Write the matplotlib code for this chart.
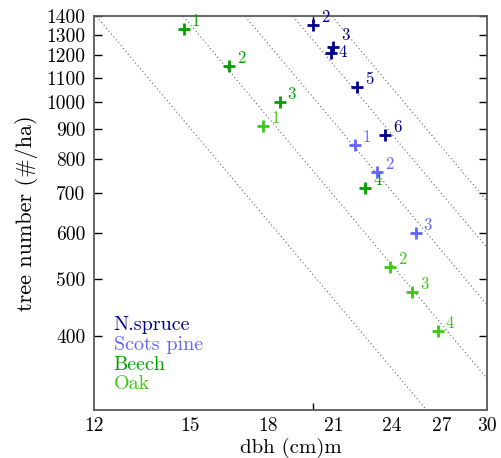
import numpy as np
import matplotlib
matplotlib.use("Agg")
from matplotlib import pyplot as plt
from matplotlib.ticker import FixedLocator, FixedFormatter, NullLocator, NullFormatter

plt.rcParams.update({
    "font.family": ["cmr10", "DejaVu Serif"],
    "font.size": 12,
    "axes.unicode_minus": False,
})

# stand data: plot number, mean dbh (cm), tree number (#/ha)
spruce_id = [2, 3, 4, 5, 6]
spruce_dbh = [20.0, 20.95, 20.85, 22.15, 23.65]
spruce_n = [1350, 1240, 1212, 1060, 880]

pine_id = [1, 2, 3]
pine_dbh = [22.05, 23.2, 25.4]
pine_n = [846, 760, 600]

beech_id = [1, 2, 3, 4]
beech_dbh = [14.8, 16.45, 18.5, 22.6]
beech_n = [1333, 1152, 1000, 714]

oak_id = [1, 2, 3, 4]
oak_dbh = [17.8, 23.95, 25.2, 26.75]
oak_n = [912, 525, 476, 408]

# basal area isolines (m2/ha)
basal_levels = [16, 24, 32, 40, 48]

x_ticks = [12, 15, 18, 21, 24, 27, 30]
y_ticks = [400, 500, 600, 700, 800, 900, 1000, 1100, 1200, 1300, 1400]

species = [
    ("N.spruce", "#00008c", spruce_id, spruce_dbh, spruce_n),
    ("Scots pine", "#6464ff", pine_id, pine_dbh, pine_n),
    ("Beech", "#00a000", beech_id, beech_dbh, beech_n),
    ("Oak", "#3cc814", oak_id, oak_dbh, oak_n),
]

fig = plt.figure(figsize=(5.01, 4.58), dpi=100)
ax = fig.add_axes([0.1876, 0.1048, 0.972 - 0.1876, 0.965 - 0.1048])
ax.set_xscale("log")
ax.set_yscale("log")
ax.set_xlim(12, 30)
ax.set_ylim(300, 1400)

d = np.geomspace(12, 30, 200)
for g in basal_levels:
    n = g / (np.pi / 4 * (d / 100) ** 2)
    ax.plot(d, n, color="0.4", linestyle=(0, (1, 2.4)), linewidth=0.8, zorder=1)

# number offsets for the two close spruce plots
shift = {("N.spruce", 3): 4, ("N.spruce", 4): -7}

for name, col, ids, dbh, num in species:
    ax.plot(dbh, num, linestyle="none", marker="+", markersize=8,
            markeredgewidth=2, color=col, zorder=3)
    for i, x, y in zip(ids, dbh, num):
        dy = shift.get((name, i), 0)
        ax.annotate(str(i), (x, y), xytext=(8, dy), textcoords="offset pixels",
                    ha="left", va="bottom", color=col, fontsize=12)

# legend as coloured text
for k, (name, col, *_rest) in enumerate(species):
    ax.text(0.05, 0.215 - k * 0.05, name, transform=ax.transAxes, color=col,
            ha="left", va="center", fontsize=14.5)

ax.xaxis.set_major_locator(FixedLocator(x_ticks))
ax.xaxis.set_major_formatter(FixedFormatter([str(v) for v in x_ticks]))
ax.xaxis.set_minor_locator(FixedLocator([20]))
ax.xaxis.set_minor_formatter(NullFormatter())
ax.yaxis.set_major_locator(FixedLocator(y_ticks))
ax.yaxis.set_major_formatter(FixedFormatter([str(v) for v in y_ticks]))
ax.yaxis.set_minor_locator(NullLocator())

ax.tick_params(axis="x", which="major", length=0, pad=5, labelsize=14)
ax.tick_params(axis="x", which="minor", direction="in", length=5, top=True, width=1)
ax.tick_params(axis="y", which="major", direction="in", length=6, right=True,
               width=1, labelsize=14, pad=6)
for t in ax.yaxis.get_major_ticks():
    if t.get_loc() > 1000:
        t.tick1line.set_visible(False)
        t.tick2line.set_visible(False)

for s in ax.spines.values():
    s.set_color("0.35")
    s.set_linewidth(1.3)

ax.set_xlabel("dbh (cm)m", fontsize=15, labelpad=2)
ax.set_ylabel("tree number (#/ha)", fontsize=16, labelpad=6)

fig.savefig("out.png", dpi=100)
